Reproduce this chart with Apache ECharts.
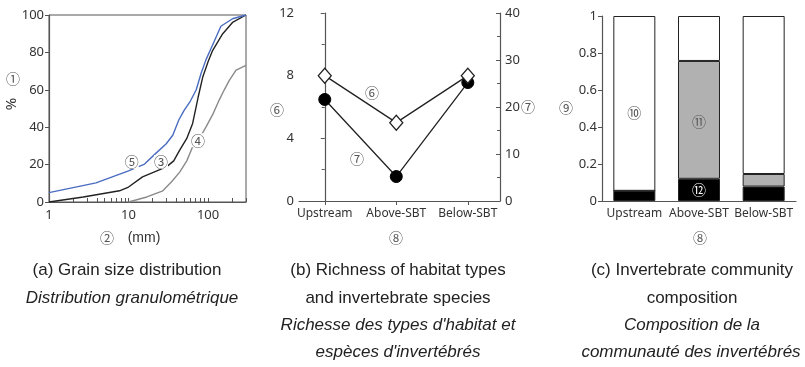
<!DOCTYPE html>
<html><head><meta charset="utf-8">
<script src="https://cdn.jsdelivr.net/npm/echarts@6/dist/echarts.min.js"></script>
<style>html,body{margin:0;padding:0;background:#fff}#c{width:805px;height:367px}</style>
</head><body><div id="c"></div>
<script>
// ---------- Panel (a): grain size distribution ----------
const sizeBlue  = [1, 3.9, 10, 15.9, 22, 29.6, 36, 43, 50, 60, 71, 82, 94, 114, 145, 203, 300];
const pctBlue   = [5, 10.2, 16.6, 20.3, 26, 31, 35.7, 44, 49, 54, 60, 69, 76, 84, 94, 98, 100];
const sizeBlack = [1, 2.7, 7.7, 10, 15, 30, 37, 44, 54, 64, 75, 86, 100, 114, 153, 203, 300];
const pctBlack  = [0, 2.7, 6, 8, 13.4, 18.8, 22, 27.7, 34, 42, 56, 67, 75, 81, 90, 96, 100];
const sizeGray  = [10, 17, 27, 35, 44, 54, 64, 78, 94, 115, 138, 160, 185, 225, 300];
const pctGray   = [0, 2.7, 6, 11, 16, 22, 29.5, 34, 40, 47, 54.5, 60, 65, 70.5, 73];
const xTickVals = [1,2,3,4,5,6,7,8,9,10,20,30,40,50,60,70,80,90,100,200,300];
const xLabelVals = [1, 10, 100];

// ---------- Panel (b): richness ----------
const sites = ['Upstream', 'Above-SBT', 'Below-SBT'];
const habitatTypes = [8, 5, 8];
const invertSpecies = [21.6, 5.2, 25.2];

// ---------- Panel (c): community composition ----------
const shareBlack = [0.055, 0.12, 0.078];
const shareGray  = [0, 0.637, 0.068];
const shareWhite = [0.945, 0.243, 0.854];

const zip = (xs, ys) => xs.map((x, i) => [x, ys[i]]);
const CJK = '"Noto Sans CJK JP"';
const TF = '"Noto Sans", sans-serif';
const CAP = '17px "Liberation Sans", sans-serif';
const CAPI = 'italic 17px "Liberation Sans", sans-serif';
const axisCol = '#555';
const lblStyle = {fontFamily: TF, fontSize: 12, color: '#333'};
const mk = (coord, text) => ({coord: coord, value: text, label: {formatter: text}});
const mpBase = (color, bg) => ({symbol: 'circle', symbolSize: 1, itemStyle: {color: 'rgba(0,0,0,0)'},
  label: Object.assign({show: true, position: 'inside', fontFamily: CJK, fontSize: 14, color: color}, bg ? {backgroundColor: bg} : {})});
const txt = (x, y, text, font, fill, extra) => Object.assign({type: 'text', x: x, y: y,
  style: {text: text, font: font, fill: fill, align: 'center', verticalAlign: 'middle'}}, extra || {});

const chart = echarts.init(document.getElementById('c'), null, {renderer: 'canvas'});

const option = {
  animation: false,
  backgroundColor: '#fff',
  grid: [
    {left: 49, top: 15, width: 197, height: 187, show: true, borderColor: axisCol, borderWidth: 1},
    {left: 299, top: 13, width: 201, height: 188},
    {left: 602, top: 16, width: 194, height: 185}
  ],
  xAxis: [
    {type: 'log', gridIndex: 0, logBase: 10, min: 1, max: 300,
     axisLine: {show: true, lineStyle: {color: axisCol, width: 1.2}},
     axisTick: {show: true, inside: true, length: 4, customValues: xTickVals, lineStyle: {color: axisCol}},
     axisLabel: Object.assign({customValues: xLabelVals, margin: 7}, lblStyle, {fontSize: 13}),
     splitLine: {show: false}, minorTick: {show: false}},
    {type: 'value', gridIndex: 1, min: -0.36, max: 2.45,
     axisLine: {show: true, onZero: false, lineStyle: {color: axisCol, width: 1.2}},
     axisTick: {show: true, length: 4, customValues: [0, 1, 2], lineStyle: {color: axisCol}},
     axisLabel: Object.assign({customValues: [0, 1, 2], margin: 7, formatter: v => sites[Math.round(v)]}, lblStyle),
     splitLine: {show: false}},
    {type: 'category', gridIndex: 2, data: sites,
     axisLine: {show: true, lineStyle: {color: axisCol, width: 1.2}},
     axisTick: {show: false},
     axisLabel: Object.assign({margin: 7, interval: 0, hideOverlap: false}, lblStyle),
     splitLine: {show: false}}
  ],
  yAxis: [
    {type: 'value', gridIndex: 0, min: 0, max: 100, interval: 20,
     axisLine: {show: true, lineStyle: {color: axisCol, width: 1.2}},
     axisTick: {show: true, length: 4, lineStyle: {color: axisCol}},
     axisLabel: Object.assign({margin: 5}, lblStyle, {fontSize: 13}),
     splitLine: {show: false}},
    {type: 'value', gridIndex: 1, position: 'left', min: 0, max: 12, interval: 4,
     axisLine: {show: true, lineStyle: {color: axisCol, width: 1.2}},
     axisTick: {show: true, length: 4, lineStyle: {color: axisCol}},
     minorTick: {show: true, splitNumber: 2, length: 3, lineStyle: {color: axisCol}},
     axisLabel: Object.assign({margin: 5}, lblStyle, {fontSize: 13}),
     splitLine: {show: false}},
    {type: 'value', gridIndex: 1, position: 'right', min: 0, max: 40, interval: 10,
     axisLine: {show: true, lineStyle: {color: axisCol, width: 1.2}},
     axisTick: {show: true, inside: true, length: 4, lineStyle: {color: axisCol}},
     minorTick: {show: true, splitNumber: 2, length: 3, lineStyle: {color: axisCol}},
     axisLabel: Object.assign({margin: 5}, lblStyle, {fontSize: 13}),
     splitLine: {show: false}},
    {type: 'value', gridIndex: 2, min: 0, max: 1, interval: 0.2,
     axisLine: {show: true, lineStyle: {color: axisCol, width: 1.2}},
     axisTick: {show: true, length: 4, lineStyle: {color: axisCol}},
     axisLabel: Object.assign({margin: 5}, lblStyle, {fontSize: 13}),
     splitLine: {show: false}}
  ],
  series: [
    {type: 'line', xAxisIndex: 0, yAxisIndex: 0, data: zip(sizeGray, pctGray), symbol: 'none',
     lineStyle: {color: '#8a8a8a', width: 1.4}, z: 2,
     markPoint: Object.assign(mpBase('#555', '#fff'), {data: [mk([75, 33], '④')]})},
    {type: 'line', xAxisIndex: 0, yAxisIndex: 0, data: zip(sizeBlack, pctBlack), symbol: 'none',
     lineStyle: {color: '#222', width: 1.4}, z: 3,
     markPoint: Object.assign(mpBase('#555', '#fff'), {data: [mk([25.6, 21.4], '③')]})},
    {type: 'line', xAxisIndex: 0, yAxisIndex: 0, data: zip(sizeBlue, pctBlue), symbol: 'none',
     lineStyle: {color: '#4a6cc0', width: 1.4}, z: 4,
     markPoint: Object.assign(mpBase('#555', '#fff'), {data: [mk([11, 21.4], '⑤')]})},

    {type: 'line', xAxisIndex: 1, yAxisIndex: 2, data: invertSpecies.map((v, i) => [i, v]),
     symbol: 'circle', symbolSize: 12, lineStyle: {color: '#222', width: 1.3},
     itemStyle: {color: '#000', borderColor: '#000'}, z: 3,
     markPoint: Object.assign(mpBase('#555'), {data: [mk([0.45, 9.0], '⑦')]})},
    {type: 'line', xAxisIndex: 1, yAxisIndex: 1, data: habitatTypes.map((v, i) => [i, v]),
     symbol: 'diamond', symbolSize: [13, 15], lineStyle: {color: '#222', width: 1.3},
     itemStyle: {color: '#fff', borderColor: '#222', borderWidth: 1.3}, z: 4,
     markPoint: Object.assign(mpBase('#555'), {data: [mk([0.66, 6.9], '⑥')]})},

    {type: 'bar', xAxisIndex: 2, yAxisIndex: 3, stack: 'c', data: shareBlack, barWidth: 42,
     itemStyle: {color: '#000', borderColor: '#222', borderWidth: 1},
     markPoint: Object.assign(mpBase('#fff'), {data: [mk(['Above-SBT', 0.06], '⑫')]})},
    {type: 'bar', xAxisIndex: 2, yAxisIndex: 3, stack: 'c', data: shareGray, barWidth: 42,
     itemStyle: {color: '#b1b1b1', borderColor: '#222', borderWidth: 1},
     markPoint: Object.assign(mpBase('#555'), {data: [mk(['Above-SBT', 0.43], '⑪')]})},
    {type: 'bar', xAxisIndex: 2, yAxisIndex: 3, stack: 'c', data: shareWhite, barWidth: 42,
     itemStyle: {color: '#fff', borderColor: '#222', borderWidth: 1},
     markPoint: Object.assign(mpBase('#555'), {data: [mk(['Upstream', 0.48], '⑩')]})}
  ],
  graphic: [
    txt(13, 79, '①', '14px ' + CJK, '#555'),
    txt(12, 104, '%', '15px ' + TF, '#333', {rotation: Math.PI / 2}),
    txt(107, 238, '②', '14px ' + CJK, '#555'),
    txt(144, 238, '(mm)', '14px "Liberation Sans", sans-serif', '#333'),
    txt(277, 110, '⑥', '14px ' + CJK, '#555'),
    txt(528, 107, '⑦', '14px ' + CJK, '#555'),
    txt(396, 238, '⑧', '14px ' + CJK, '#555'),
    txt(700, 238, '⑧', '14px ' + CJK, '#555'),
    txt(566, 108, '⑨', '14px ' + CJK, '#555'),

    txt(127, 270, '(a) Grain size distribution', CAP, '#222'),
    txt(132, 298, 'Distribution granulométrique', CAPI, '#222'),

    txt(398, 270, '(b) Richness of habitat types', CAP, '#222'),
    txt(398, 298, 'and invertebrate species', CAP, '#222'),
    txt(398, 325, "Richesse des types d'habitat et", CAPI, '#222'),
    txt(398, 352, "espèces d'invertébrés", CAPI, '#222'),

    txt(692, 270, '(c) Invertebrate community', CAP, '#222'),
    txt(692, 298, 'composition', CAP, '#222'),
    txt(692, 325, 'Composition de la', CAPI, '#222'),
    txt(691, 352, 'communauté des invertébrés', CAPI, '#222')
  ]
};
chart.setOption(option);
</script>
</body></html>
